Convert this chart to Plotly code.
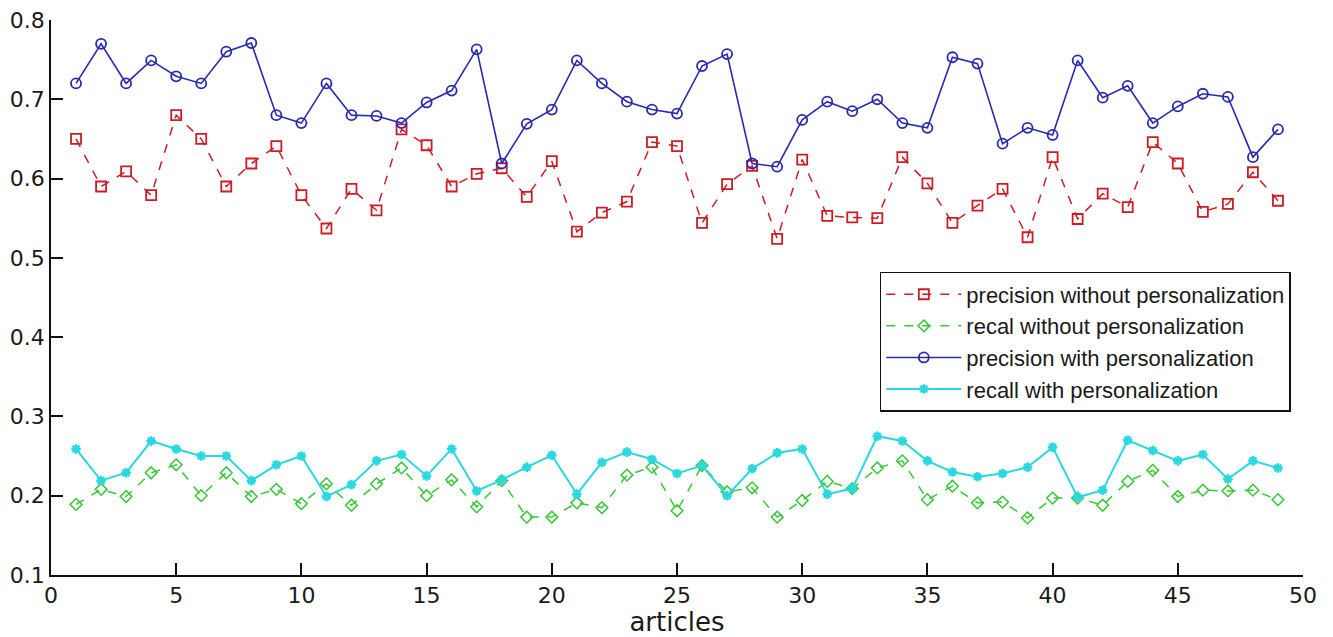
import plotly.graph_objects as go

articles = list(range(1, 50))

precision_without = [0.650, 0.590, 0.609, 0.579, 0.680, 0.650, 0.590, 0.619, 0.641, 0.579,
                     0.537, 0.587, 0.560, 0.662, 0.642, 0.590, 0.606, 0.613, 0.577, 0.622,
                     0.533, 0.557, 0.571, 0.646, 0.641, 0.544, 0.593, 0.616, 0.524, 0.624,
                     0.553, 0.551, 0.550, 0.627, 0.594, 0.544, 0.566, 0.587, 0.526, 0.627,
                     0.549, 0.581, 0.564, 0.646, 0.619, 0.558, 0.568, 0.608, 0.572]

recall_without = [0.189, 0.208, 0.199, 0.229, 0.239, 0.200, 0.229, 0.199, 0.208, 0.190,
                  0.215, 0.188, 0.215, 0.235, 0.200, 0.220, 0.186, 0.219, 0.173, 0.173,
                  0.191, 0.185, 0.226, 0.236, 0.181, 0.238, 0.205, 0.210, 0.173, 0.194,
                  0.218, 0.209, 0.235, 0.244, 0.195, 0.212, 0.191, 0.192, 0.172, 0.197,
                  0.197, 0.188, 0.218, 0.232, 0.199, 0.207, 0.206, 0.207, 0.195]

precision_with = [0.720, 0.770, 0.720, 0.749, 0.729, 0.720, 0.760, 0.771, 0.680, 0.670,
                  0.720, 0.680, 0.679, 0.670, 0.696, 0.711, 0.763, 0.619, 0.669, 0.687,
                  0.749, 0.720, 0.697, 0.687, 0.682, 0.742, 0.757, 0.619, 0.615, 0.674,
                  0.697, 0.685, 0.700, 0.670, 0.664, 0.753, 0.745, 0.644, 0.664, 0.655,
                  0.749, 0.702, 0.717, 0.670, 0.691, 0.707, 0.703, 0.627, 0.662]

recall_with = [0.259, 0.219, 0.229, 0.269, 0.259, 0.250, 0.250, 0.219, 0.239, 0.250,
               0.199, 0.214, 0.244, 0.252, 0.225, 0.259, 0.206, 0.220, 0.236, 0.251,
               0.202, 0.242, 0.255, 0.246, 0.228, 0.238, 0.200, 0.234, 0.254, 0.259,
               0.202, 0.209, 0.275, 0.269, 0.244, 0.230, 0.224, 0.228, 0.236, 0.261,
               0.198, 0.207, 0.270, 0.257, 0.244, 0.252, 0.221, 0.244, 0.235]

fig = go.Figure()
fig.add_trace(go.Scatter(
    x=articles, y=precision_without, mode="lines+markers",
    name="precision without personalization",
    line=dict(color="#cc1c24", width=1.5, dash="dash"),
    marker=dict(symbol="square-open", size=10, color="#cc1c24", line=dict(width=1.8))))
fig.add_trace(go.Scatter(
    x=articles, y=recall_without, mode="lines+markers",
    name="recal without personalization",
    line=dict(color="#35c935", width=1.5, dash="dash"),
    marker=dict(symbol="diamond-open", size=9, color="#35c935", line=dict(width=1.5))))
fig.add_trace(go.Scatter(
    x=articles, y=precision_with, mode="lines+markers",
    name="precision with personalization",
    line=dict(color="#2a2ab0", width=1.6),
    marker=dict(symbol="circle-open", size=10, color="#2a2ab0", line=dict(width=1.8))))
fig.add_trace(go.Scatter(
    x=articles, y=recall_with, mode="lines+markers",
    name="recall with personalization",
    line=dict(color="#2ad8e0", width=2),
    marker=dict(symbol="asterisk-open", size=8, color="#2ad8e0", line=dict(width=2.5))))

FONT = "DejaVu Sans, Liberation Sans, Arial, sans-serif"
LEG_FONT = "Liberation Sans, Arial, sans-serif"
axis_font = dict(family=FONT, size=22, color="#1a1a1a")

# page body has an 8px default margin, so the figure is sized to fit the window
fig.update_layout(
    width=1325, height=629,
    margin=dict(l=43, r=30, t=12, b=62, autoexpand=False),
    paper_bgcolor="white", plot_bgcolor="white",
    font=dict(family=FONT, color="#1a1a1a"),
    showlegend=True,
    legend=dict(
        x=0.662, y=0.546, xanchor="left", yanchor="top",
        bordercolor="#111111", borderwidth=1.5, bgcolor="white",
        font=dict(family=LEG_FONT, size=22, color="#1a1a1a"),
        itemwidth=75, tracegroupgap=0,
    ),
    xaxis=dict(
        range=[0, 50], tickvals=[0, 5, 10, 15, 20, 25, 30, 35, 40, 45, 50],
        showline=True, linecolor="#111111", linewidth=1.5,
        ticks="inside", ticklen=12, tickwidth=1.5, tickcolor="#111111",
        showgrid=False, zeroline=False, tickfont=axis_font, automargin=False,
        ticklabeloverflow="allow",
        title=dict(text="articles", font=dict(family=FONT, size=26, color="#1a1a1a"), standoff=2),
    ),
    yaxis=dict(
        range=[0.1, 0.8], tickvals=[0.1, 0.2, 0.3, 0.4, 0.5, 0.6, 0.7, 0.8],
        ticktext=["0.1", "0.2", "0.3", "0.4", "0.5", "0.6", "0.7", "0.8"],
        showline=True, linecolor="#111111", linewidth=1.5,
        ticks="inside", ticklen=12, tickwidth=1.5, tickcolor="#111111",
        showgrid=False, zeroline=False, tickfont=axis_font, automargin=False,
        ticklabeloverflow="allow",
    ),
)

fig.write_html("out.html")
